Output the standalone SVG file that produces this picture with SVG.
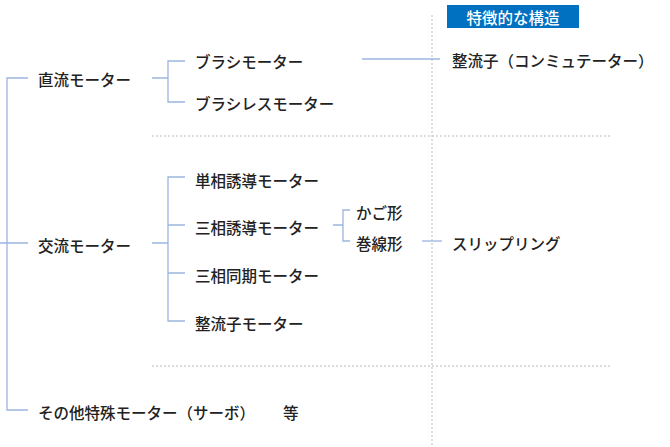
<svg xmlns="http://www.w3.org/2000/svg" width="670" height="447" viewBox="0 0 670 447">
<style>
text{font-family:"Noto Sans CJK JP",sans-serif;font-size:15.5px;font-weight:500;fill:#222;dominant-baseline:central}
.c{fill:none;stroke:#9bb5e0;stroke-width:1.3}
.d{fill:none;stroke:#bbb;stroke-width:1;stroke-dasharray:2 2}
</style>
<rect width="670" height="447" fill="#fff"/>
<g id="grid">
<line class="d" x1="432" y1="15" x2="432" y2="447"/>
<line class="d" x1="152" y1="136" x2="610" y2="136"/>
<line class="d" x1="152" y1="366" x2="610" y2="366"/>
</g>
<g id="header"><rect x="447" y="5" width="132" height="23" fill="#0070c0"/><text x="513" y="16.5" text-anchor="middle" style="fill:#fff">特徴的な構造</text></g>
<g id="connectors">
<path class="c" d="M28 78H7V410H28M0 243H28"/>
<path class="c" d="M152 78H168M185 61H168V102H185"/>
<path class="c" d="M362 59H440"/>
<path class="c" d="M152 243H168M185 177H168V321H185M168 225H185M168 273H185"/>
<path class="c" d="M333 225H343M350 210H343V241H350"/>
<path class="c" d="M422 241H442"/>
</g>
<g id="n1"><text x="38" y="79">直流モーター</text></g>
<g id="n2"><text x="195" y="61">ブラシモーター</text></g>
<g id="n3"><text x="195" y="103">ブラシレスモーター</text></g>
<g id="n4"><text x="452" y="60">整流子（コンミュテーター）</text></g>
<g id="n5"><text x="38" y="245">交流モーター</text></g>
<g id="n6"><text x="195" y="180">単相誘導モーター</text></g>
<g id="n7"><text x="195" y="227">三相誘導モーター</text></g>
<g id="n8"><text x="195" y="275">三相同期モーター</text></g>
<g id="n9"><text x="195" y="323">整流子モーター</text></g>
<g id="n10"><text x="356" y="212">かご形</text></g>
<g id="n11"><text x="356" y="243">巻線形</text></g>
<g id="n12"><text x="452" y="243">スリップリング</text></g>
<g id="n13"><text x="38" y="412">その他特殊モーター（サーボ）</text><text x="283" y="412">等</text></g>
</svg>
